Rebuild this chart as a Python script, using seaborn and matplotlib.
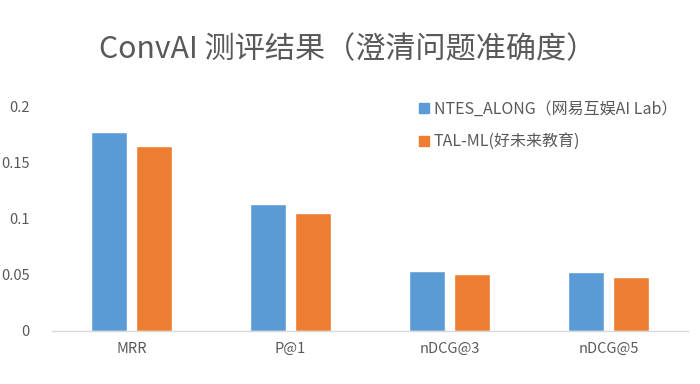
import matplotlib
matplotlib.use("Agg")
import matplotlib.pyplot as plt
from matplotlib.lines import Line2D
import seaborn as sns
import pandas as pd

categories = ["MRR", "P@1", "nDCG@3", "nDCG@5"]
series_names = ["NTES_ALONG（网易互娱AI Lab）", "TAL-ML(好未来教育)"]
ntes_values = [0.178, 0.1135, 0.0536, 0.0524]
tal_values = [0.165, 0.1056, 0.0509, 0.0482]
y_ticks = [0, 0.05, 0.1, 0.15, 0.2]
y_tick_labels = ["0", "0.05", "0.1", "0.15", "0.2"]
title = "ConvAI 测评结果（澄清问题准确度）"
colors = ["#5B9BD5", "#ED7D31"]

df = pd.DataFrame({
    "metric": categories * 2,
    "model": [series_names[0]] * len(categories) + [series_names[1]] * len(categories),
    "value": ntes_values + tal_values,
})

sns.set_theme(style="white")
plt.rcParams["font.family"] = ["Noto Sans CJK SC", "DejaVu Sans"]

fig = plt.figure(figsize=(7, 3.84), dpi=100)
ax = fig.add_axes([52 / 700, 1 - 331 / 384, (688 - 52) / 700, (331 - 107) / 384])

sns.barplot(data=df, x="metric", y="value", hue="model", order=categories,
            hue_order=series_names, palette=colors, width=0.566, gap=0.2,
            saturation=1, legend=False, ax=ax)

ax.set_xlim(-0.5, len(categories) - 0.5)
ax.set_ylim(0, 0.2)
ax.set_yticks(y_ticks)
ax.set_yticklabels(y_tick_labels)
ax.set_xlabel("")
ax.set_ylabel("")
for s in ["top", "right", "left"]:
    ax.spines[s].set_visible(False)
ax.spines["bottom"].set_color("#D9D9D9")
ax.spines["bottom"].set_linewidth(1)
ax.tick_params(axis="both", length=0, colors="#595959", labelsize=10.5)
ax.tick_params(axis="y", pad=16)
ax.tick_params(axis="x", pad=8)

fig.text(348 / 700, 1 - 50 / 384, title, ha="center", va="center", fontsize=21.7, color="#595959")

handles = [Line2D([0], [0], marker="s", linestyle="none", markersize=7,
                  markerfacecolor=c, markeredgecolor=c) for c in colors]
leg = ax.legend(handles, series_names, loc="upper left",
                bbox_to_anchor=(410 / 700, 1 - 93 / 384), bbox_transform=fig.transFigure,
                frameon=False, fontsize=11.5, labelspacing=0.95, handlelength=0.7,
                handletextpad=0.3, borderpad=0)
for t in leg.get_texts():
    t.set_color("#595959")

fig.savefig("out.png", dpi=100)
